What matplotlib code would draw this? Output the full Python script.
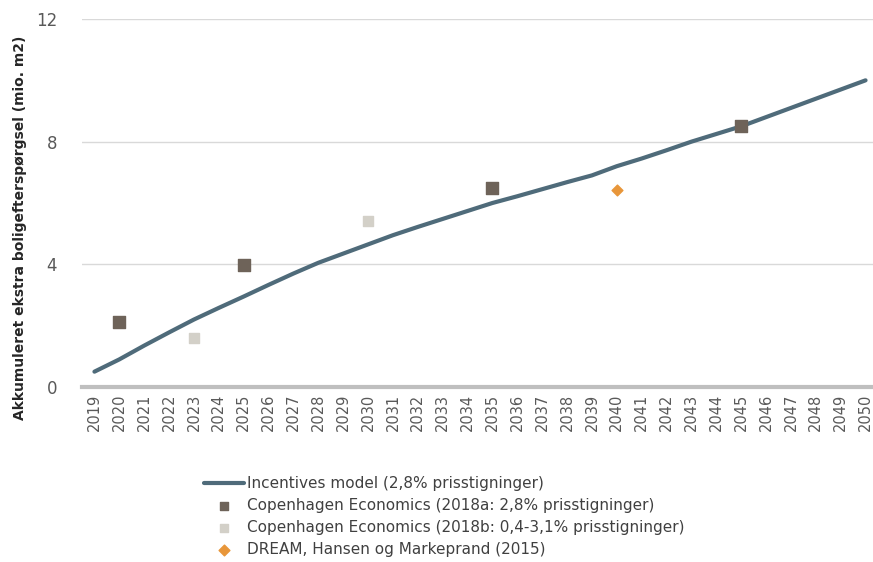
import numpy as np
import matplotlib
matplotlib.use('Agg')
import matplotlib.pyplot as plt

# x-axis categories
years = list(range(2019, 2051))

# Incentives model (2,8% prisstigninger), one value per year
incentives = [0.5, 0.9, 1.35, 1.78, 2.2, 2.58, 2.95, 3.33, 3.7, 4.05,
              4.35, 4.65, 4.95, 5.22, 5.48, 5.74, 6.0, 6.22, 6.45, 6.68,
              6.9, 7.2, 7.45, 7.72, 8.0, 8.25, 8.5, 8.8, 9.1, 9.4,
              9.7, 10.0]

# point estimates from other studies
ce_a_years = [2020, 2025, 2035, 2045]
ce_a_vals = [2.12, 3.98, 6.49, 8.5]
ce_b_years = [2023, 2030]
ce_b_vals = [1.6, 5.41]
dream_years = [2040]
dream_vals = [6.42]

y_ticks = [0, 4, 8, 12]

labels = ['Incentives model (2,8% prisstigninger)',
          'Copenhagen Economics (2018a: 2,8% prisstigninger)',
          'Copenhagen Economics (2018b: 0,4-3,1% prisstigninger)',
          'DREAM, Hansen og Markeprand (2015)']

pos = {y: i for i, y in enumerate(years)}

fig = plt.figure(figsize=(8.73, 5.62), dpi=100)
ax = fig.add_axes([82 / 873, 1 - 387 / 562, 1 - 82 / 873, (387 - 19) / 562])

h1, = ax.plot(range(len(years)), incentives, color='#4f6b7a', lw=3,
              solid_capstyle='round', zorder=3)
h2 = ax.scatter([pos[y] for y in ce_a_years], ce_a_vals, marker='s', s=85,
                color='#6e6359', zorder=4)
h3 = ax.scatter([pos[y] for y in ce_b_years], ce_b_vals, marker='s', s=60,
                color='#d3d0c8', zorder=4)
h4 = ax.scatter([pos[y] for y in dream_years], dream_vals, marker='D', s=30,
                color='#e8963a', zorder=4)

ax.set_xlim(-0.5, len(years) - 0.7)
ax.set_ylim(0, 12)
ax.set_xticks(range(len(years)))
ax.set_xticklabels([str(y) for y in years], rotation=90, fontsize=10.5, color='#595959')
ax.set_yticks(y_ticks)
ax.set_yticklabels([str(t) for t in y_ticks], fontsize=12, color='#595959')
ax.tick_params(axis='x', length=0, pad=5)
ax.tick_params(axis='y', length=0, pad=18)
ax.grid(axis='y', color='#d9d9d9', lw=1)
ax.set_axisbelow(True)
for s in ['top', 'right', 'left']:
    ax.spines[s].set_visible(False)
ax.spines['bottom'].set_color('#bfbfbf')
ax.spines['bottom'].set_linewidth(3)

fig.text(20 / 873, 1 - 228 / 562, 'Akkumuleret ekstra boligefterspørgsel (mio. m2)',
         rotation=90, ha='center', va='center', fontsize=10, fontweight='bold',
         color='#262626')

leg = fig.legend([h1, h2, h3, h4], labels, loc='upper left',
                 bbox_to_anchor=(204 / 873, 1 - 476 / 562), frameon=False,
                 fontsize=11, handlelength=2.6, handletextpad=0.2,
                 labelspacing=0.45, borderaxespad=0, borderpad=0,
                 scatterpoints=1)
for h in leg.legend_handles[1:]:
    h.set_sizes([30])
for t in leg.get_texts():
    t.set_color('#404040')

fig.savefig('out.png', dpi=100)
